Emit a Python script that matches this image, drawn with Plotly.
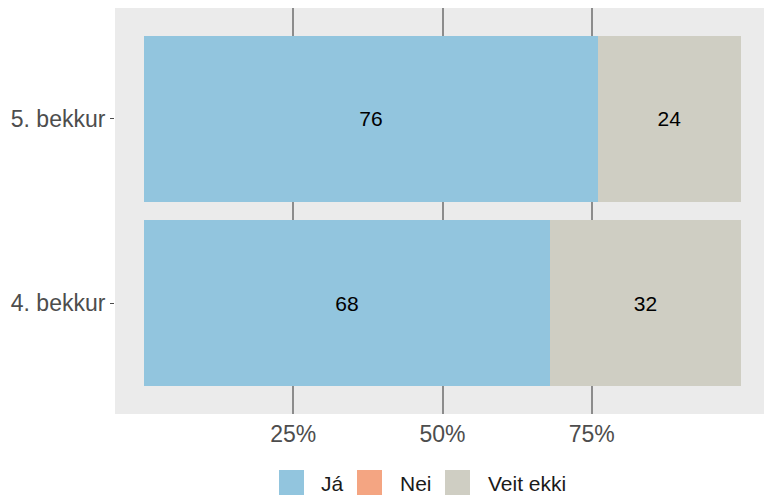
import plotly.graph_objects as go

# ---- data ----
categories = ["4. bekkur", "5. bekkur"]
series_names = ["Já", "Nei", "Veit ekki"]
ja = [68, 76]
nei = [0, 0]
veit_ekki = [32, 24]
x_tick_vals = [25, 50, 75]
x_tick_labels = ["25%", "50%", "75%"]
series_colors = ["#92C5DE", "#F4A582", "#CFCEC3"]

series_values = [ja, nei, veit_ekki]

FONT = "Liberation Sans, Arial, sans-serif"

fig = go.Figure()
for name, vals, col in zip(series_names, series_values, series_colors):
    fig.add_trace(go.Bar(
        y=categories, x=vals, name=name, orientation="h",
        marker=dict(color=col, line=dict(width=0)),
        text=[str(v) if v > 0 else "" for v in vals],
        textposition="inside", insidetextanchor="middle",
        textfont=dict(family=FONT, size=21, color="#000000"),
        constraintext="none",
        showlegend=False, hoverinfo="skip",
    ))

W, H = 764, 497
ml, mr, mt, mb = 115, 0, 8, 83
pw, ph = W - ml - mr, H - mt - mb

def px(x):
    return (x - ml) / pw

def py(y):
    return (H - mb - y) / ph

# manual legend (ggplot-style large keys)
key_left = [279, 357, 445]
text_left = [319, 398, 486]
shapes = []
annotations = []
for i, (name, col) in enumerate(zip(series_names, series_colors)):
    shapes.append(dict(type="rect", xref="paper", yref="paper",
                       x0=px(key_left[i]), x1=px(key_left[i] + 25),
                       y0=py(495), y1=py(470),
                       fillcolor=col, line=dict(width=0)))
    annotations.append(dict(xref="paper", yref="paper", x=px(text_left[i]), y=py(483),
                            text=name, showarrow=False, xanchor="left", yanchor="middle",
                            font=dict(family=FONT, size=21, color="#1A1A1A")))

fig.update_layout(
    width=W, height=H,
    margin=dict(l=ml, r=mr, t=mt, b=mb, pad=0),
    barmode="stack", bargap=0.1,
    plot_bgcolor="#EBEBEB", paper_bgcolor="#FFFFFF",
    shapes=shapes, annotations=annotations,
    showlegend=False,
    xaxis=dict(range=[-4.86, 103.85], tickvals=x_tick_vals, ticktext=x_tick_labels,
               showgrid=True, gridcolor="#8C8C8C", gridwidth=1.5, zeroline=False,
               ticks="", ticklabelstandoff=4,
               tickfont=dict(family=FONT, size=23, color="#4D4D4D"), fixedrange=True),
    yaxis=dict(categoryorder="array", categoryarray=categories, range=[-0.6, 1.6],
               showgrid=False, zeroline=False, ticks="outside", ticklen=4,
               tickcolor="#4D4D4D", tickwidth=1,
               tickfont=dict(family=FONT, size=23, color="#4D4D4D"), fixedrange=True),
)

fig.write_html("out.html", config={"displayModeBar": False},
               post_script="document.body.style.margin='0';document.body.style.overflow='hidden';")
